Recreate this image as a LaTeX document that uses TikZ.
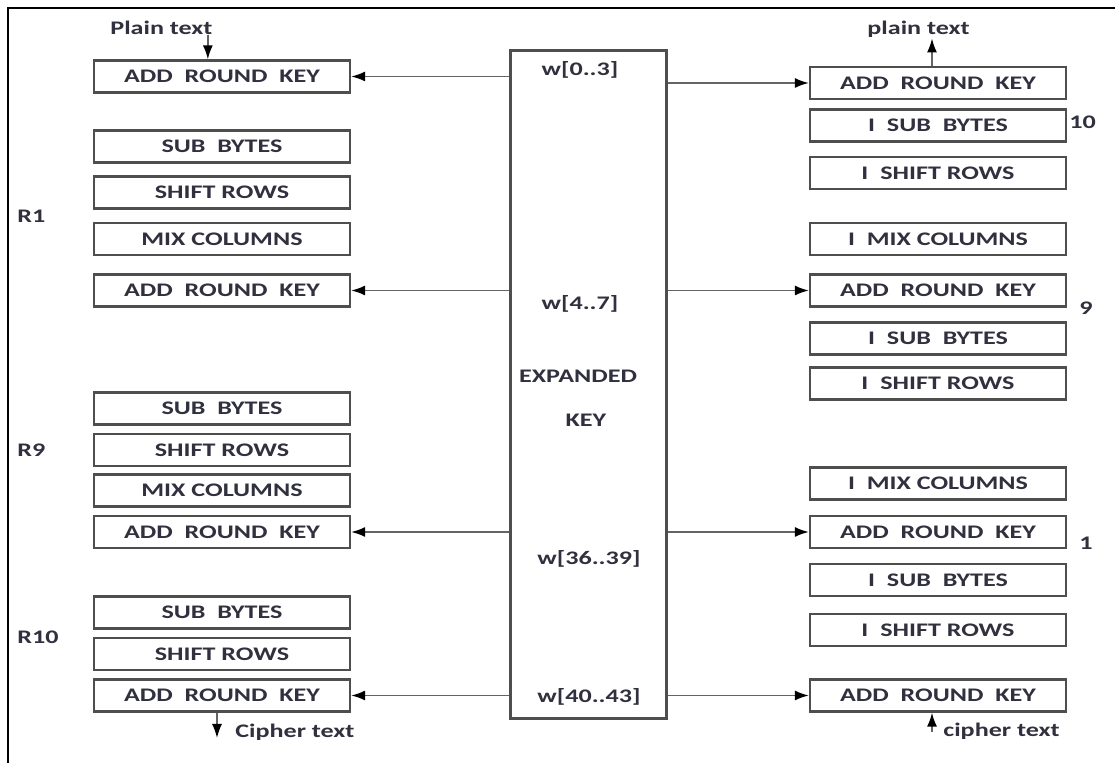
\documentclass[tikz,border=0pt]{standalone}
\usepackage{fontspec}
\setmainfont{Carlito}[FakeStretch=1.36]
\usetikzlibrary{arrows.meta}
\definecolor{ink}{RGB}{48,48,62}
\definecolor{edge}{RGB}{78,78,78}
\definecolor{wire}{RGB}{100,100,100}

\begin{document}
\begin{tikzpicture}[x=0.5pt,y=-0.5pt,font=\bfseries\fontsize{9.6}{11}\selectfont,text=ink]
\tikzstyle{stage}=[draw=edge,line width=1.1pt,minimum width=128pt,minimum height=16pt,inner sep=0pt]
\tikzstyle{keyline}=[draw=wire,line width=0.85pt,-{Latex[length=7pt,width=5pt,black]}]
\tikzstyle{lbl}=[inner sep=0pt]
\useasboundingbox (0,0) rectangle (1115,763);
\draw[line width=1pt] (1115,8) -- (8,8) -- (8,763);

% encryption side
\foreach \n/\y/\t in {l1/76.5/ADD~~ROUND~~KEY, l2/146.5/SUB~~BYTES, l3/192.5/SHIFT ROWS,
    l4/239/MIX COLUMNS, l5/290.5/ADD~~ROUND~~KEY, l6/408.5/SUB~~BYTES, l7/450/SHIFT ROWS,
    l8/490.5/MIX COLUMNS, l9/532/ADD~~ROUND~~KEY, l10/612.5/SUB~~BYTES,
    l11/654/SHIFT ROWS, l12/695.5/ADD~~ROUND~~KEY}
  \node[stage] (\n) at (222,\y) {\t};

% decryption side
\foreach \n/\y/\t in {r1/83/ADD~~ROUND~~KEY, r2/125.5/I~~SUB~~BYTES, r3/173/I~~SHIFT ROWS,
    r4/239/I~~MIX COLUMNS, r5/290.5/ADD~~ROUND~~KEY, r6/338.5/I~~SUB~~BYTES,
    r7/383.5/I~~SHIFT ROWS, r8/483.5/I~~MIX COLUMNS, r9/532/ADD~~ROUND~~KEY,
    r10/580/I~~SUB~~BYTES, r11/630/I~~SHIFT ROWS, r12/695.5/ADD~~ROUND~~KEY}
  \node[stage] (\n) at (938,\y) {\t};

% key schedule
\node[draw=edge,line width=1.1pt,minimum width=78pt,minimum height=334pt,inner sep=0pt] (key) at (588.5,384.5) {};
\node[lbl,anchor=base] (w0) at (580,76) {w[0..3]};
\node[lbl,anchor=base] (w4) at (580,310) {w[4..7]};
\node[lbl,anchor=base] (exp) at (578,383) {EXPANDED};
\node[lbl,anchor=base] (kname) at (586,427) {KEY};
\node[lbl,anchor=base] (w36) at (589,565) {w[36..39]};
\node[lbl,anchor=base] (w40) at (589,703) {w[40..43]};

\foreach \s in {1,5,9,12}{
  \draw[keyline] (key.west |- l\s) -- (l\s.east);
  \draw[keyline] (key.east |- r\s) -- (r\s.west);
}

% round labels
\node[lbl,anchor=base west] (R1) at (17,223) {R1};
\node[lbl,anchor=base west] (R9) at (17,457) {R9};
\node[lbl,anchor=base west] (R10) at (17,644) {R10};
\node[lbl,anchor=base west] (d10) at (1069,129) {10};
\node[lbl,anchor=base west] (d9) at (1079,315) {9};
\node[lbl,anchor=base west] (d1) at (1079,550) {1};

% inputs and outputs
\node[lbl,anchor=base west] (pin) at (110,35) {Plain text};
\node[lbl,anchor=base west] (cout) at (235,738) {Cipher text};
\node[lbl,anchor=base west] (pout) at (867,35) {plain text};
\node[lbl,anchor=base west] (cin) at (943,737) {cipher text};

\draw[keyline] ([xshift=-2.5pt]pin.base east) -- ([xshift=-2.5pt]pin.base east |- l1.north);
\draw[keyline] ([xshift=-2.5pt]l12.south) -- ([xshift=-2.5pt]l12.south |- cout.base);
\draw[keyline] ([xshift=-3pt]r1.north) -- ([xshift=-3pt]r1.north |- pout.south);
\draw[keyline] ([xshift=-3pt]r12.south |- cin.center) -- ([xshift=-3pt]r12.south);

\end{tikzpicture}
\end{document}
